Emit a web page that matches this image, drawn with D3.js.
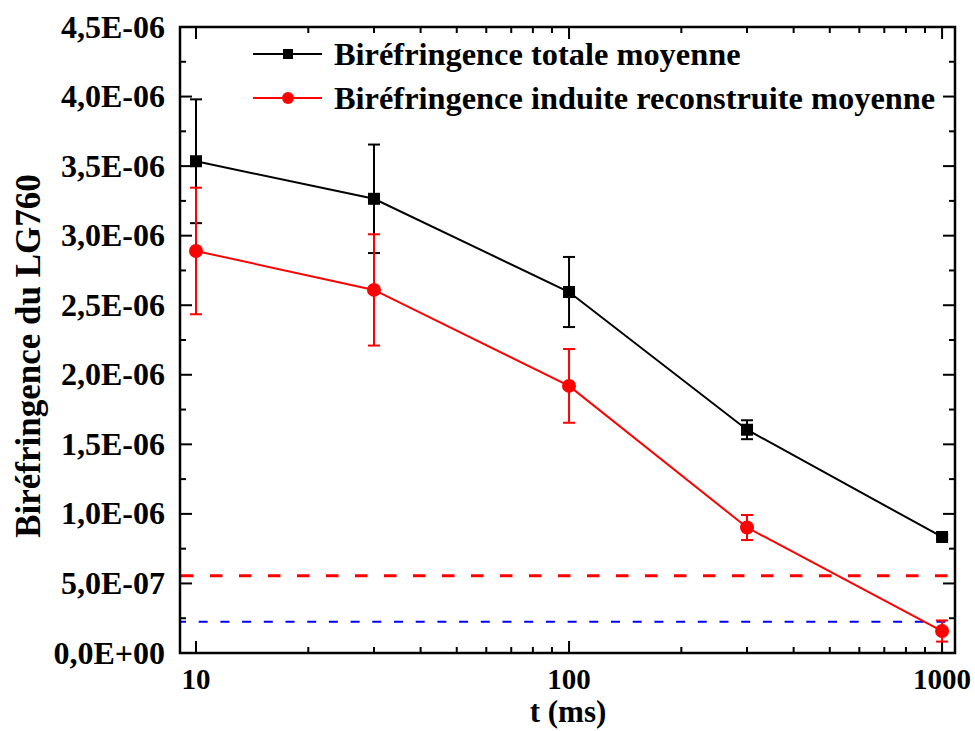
<!DOCTYPE html>
<html>
<head>
<meta charset="utf-8">
<script src="https://cdn.jsdelivr.net/npm/d3@7"></script>
<style>
  html, body { margin: 0; padding: 0; background: #fff; }
  svg text { font-family: "Liberation Serif", "Times New Roman", serif; font-weight: bold; fill: #000; }
</style>
</head>
<body>
<svg id="chart" width="975" height="731"></svg>
<script>
// --- data ---
const times = [10, 30, 100, 300, 1000];
const totalMean = [3.535e-6, 3.265e-6, 2.595e-6, 1.605e-6, 0.834e-6];
const totalErr = [0.445e-6, 0.39e-6, 0.252e-6, 0.068e-6, 0.015e-6];
const induitMean = [2.89e-6, 2.61e-6, 1.92e-6, 0.902e-6, 0.158e-6];
const induitErr = [0.455e-6, 0.40e-6, 0.265e-6, 0.09e-6, 0.076e-6];
const redLevel = 0.556e-6;
const blueLevel = 0.225e-6;

const yTickValues = [0, 0.5e-6, 1.0e-6, 1.5e-6, 2.0e-6, 2.5e-6, 3.0e-6, 3.5e-6, 4.0e-6, 4.5e-6];
const yTickLabels = ["0,0E+00", "5,0E-07", "1,0E-06", "1,5E-06", "2,0E-06", "2,5E-06", "3,0E-06", "3,5E-06", "4,0E-06", "4,5E-06"];
const xTickValues = [10, 100, 1000];
const xTickLabels = ["10", "100", "1000"];
const seriesNames = ["Biréfringence totale moyenne", "Biréfringence induite reconstruite moyenne"];

// --- layout ---
const plotL = 180, plotR = 955, plotT = 27, plotB = 653;
const svg = d3.select("#chart");

const x = d3.scaleLog().domain([9.06, 1083]).range([plotL, plotR]);
const y = d3.scaleLinear().domain([0, 4.5e-6]).range([plotB, plotT]);

// minor ticks
const xMinor = [];
[10, 100].forEach(dec => { for (let k = 2; k <= 9; k++) xMinor.push(dec * k); });
const yMinor = d3.range(0.25e-6, 4.5e-6, 0.5e-6);

const axisG = svg.append("g").attr("stroke", "#000").attr("stroke-width", 2);

// x ticks bottom and top (inward)
xTickValues.forEach(v => {
  axisG.append("line").attr("x1", x(v)).attr("x2", x(v)).attr("y1", plotB).attr("y2", plotB - 12);
  axisG.append("line").attr("x1", x(v)).attr("x2", x(v)).attr("y1", plotT).attr("y2", plotT + 12);
});
xMinor.forEach(v => {
  axisG.append("line").attr("x1", x(v)).attr("x2", x(v)).attr("y1", plotB).attr("y2", plotB - 6);
  axisG.append("line").attr("x1", x(v)).attr("x2", x(v)).attr("y1", plotT).attr("y2", plotT + 6);
});
// y ticks left and right (inward)
yTickValues.forEach(v => {
  axisG.append("line").attr("x1", plotL).attr("x2", plotL + 12).attr("y1", y(v)).attr("y2", y(v));
  axisG.append("line").attr("x1", plotR).attr("x2", plotR - 12).attr("y1", y(v)).attr("y2", y(v));
});
yMinor.forEach(v => {
  axisG.append("line").attr("x1", plotL).attr("x2", plotL + 6).attr("y1", y(v)).attr("y2", y(v));
  axisG.append("line").attr("x1", plotR).attr("x2", plotR - 6).attr("y1", y(v)).attr("y2", y(v));
});

// reference dashed lines
svg.append("line")
  .attr("x1", plotL).attr("x2", plotR)
  .attr("y1", y(redLevel)).attr("y2", y(redLevel))
  .attr("stroke", "#ff0000").attr("stroke-width", 3)
  .attr("stroke-dasharray", "12.5,16.5").attr("stroke-dashoffset", -1);
svg.append("line")
  .attr("x1", plotL).attr("x2", plotR)
  .attr("y1", y(blueLevel)).attr("y2", y(blueLevel))
  .attr("stroke", "#0000ff").attr("stroke-width", 2)
  .attr("stroke-dasharray", "9,12.7").attr("stroke-dashoffset", 3);

// series
function drawSeries(means, errs, color, marker) {
  const pts = times.map((t, i) => ({ t, m: means[i], e: errs[i] }));
  const g = svg.append("g");
  g.append("path")
    .datum(pts)
    .attr("fill", "none")
    .attr("stroke", color)
    .attr("stroke-width", 2)
    .attr("d", d3.line().x(d => x(d.t)).y(d => y(d.m)));

  const eb = g.selectAll(".err").data(pts).join("g")
    .attr("stroke", color).attr("stroke-width", 2);
  eb.append("line")
    .attr("x1", d => x(d.t)).attr("x2", d => x(d.t))
    .attr("y1", d => y(d.m + d.e)).attr("y2", d => y(d.m - d.e));
  eb.append("line")
    .attr("x1", d => x(d.t) - 6).attr("x2", d => x(d.t) + 6)
    .attr("y1", d => y(d.m + d.e)).attr("y2", d => y(d.m + d.e));
  eb.append("line")
    .attr("x1", d => x(d.t) - 6).attr("x2", d => x(d.t) + 6)
    .attr("y1", d => y(d.m - d.e)).attr("y2", d => y(d.m - d.e));

  if (marker === "square") {
    g.selectAll(".mk").data(pts).join("rect")
      .attr("x", d => x(d.t) - 6).attr("y", d => y(d.m) - 6)
      .attr("width", 12).attr("height", 12).attr("fill", color);
  } else {
    g.selectAll(".mk").data(pts).join("circle")
      .attr("cx", d => x(d.t)).attr("cy", d => y(d.m))
      .attr("r", 7).attr("fill", color);
  }
}
drawSeries(totalMean, totalErr, "#000000", "square");
drawSeries(induitMean, induitErr, "#ff0000", "circle");

// frame
svg.append("rect")
  .attr("x", plotL).attr("y", plotT)
  .attr("width", plotR - plotL).attr("height", plotB - plotT)
  .attr("fill", "none").attr("stroke", "#000").attr("stroke-width", 2.5);

// tick labels
svg.append("g").selectAll("text").data(yTickValues).join("text")
  .attr("x", 165).attr("y", d => y(d)).attr("dy", "0.33em")
  .attr("text-anchor", "end").attr("font-size", 32)
  .text((d, i) => yTickLabels[i]);
svg.append("g").selectAll("text").data(xTickValues).join("text")
  .attr("x", d => x(d)).attr("y", 689)
  .attr("text-anchor", "middle").attr("font-size", 29)
  .text((d, i) => xTickLabels[i]);

// axis titles
svg.append("text")
  .attr("x", 568).attr("y", 722)
  .attr("text-anchor", "middle").attr("font-size", 31)
  .text("t (ms)");
svg.append("text")
  .attr("transform", "translate(40,356) rotate(-90)")
  .attr("text-anchor", "middle").attr("font-size", 35)
  .text("Biréfringence du LG760");

// legend
const legend = svg.append("g");
const legendRows = [
  { name: seriesNames[0], color: "#000000", marker: "square", y: 54 },
  { name: seriesNames[1], color: "#ff0000", marker: "circle", y: 98 }
];
legendRows.forEach(r => {
  legend.append("line").attr("x1", 253).attr("x2", 322).attr("y1", r.y).attr("y2", r.y)
    .attr("stroke", r.color).attr("stroke-width", 2);
  if (r.marker === "square") {
    legend.append("rect").attr("x", 288 - 5).attr("y", r.y - 5).attr("width", 10).attr("height", 10).attr("fill", r.color);
  } else {
    legend.append("circle").attr("cx", 288).attr("cy", r.y).attr("r", 6).attr("fill", r.color);
  }
  legend.append("text").attr("x", 334).attr("y", r.y + 11).attr("font-size", 32.4).text(r.name);
});
</script>
</body>
</html>
